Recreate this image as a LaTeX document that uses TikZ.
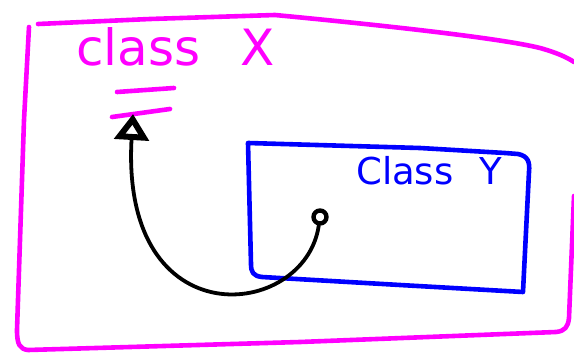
\documentclass[tikz,border=0pt]{standalone}
\usepackage{fontspec}
\setmainfont{DejaVu Sans}
\usepackage{tikz}
\usetikzlibrary{arrows.meta, positioning, calc}
\definecolor{cmag}{HTML}{FF00FF}
\definecolor{cblue}{HTML}{0000FF}

\begin{document}
\begin{tikzpicture}[x=1pt, y=-1pt, line cap=round, line join=round,
  magpen/.style={cmag, line width=4.6pt},
  bluepen/.style={cblue, line width=4.6pt},
  hand/.style={inner sep=0pt, anchor=base west}]
  \useasboundingbox[fill=white] (0,0) rectangle (574,353);

  % Outer frame (class X)
  \draw[magpen] (38,24) -- (150,19) -- (275,15) .. controls (380,25) and (500,38) .. (540,48) .. controls (558,53) and (568,58) .. (574,62);
  \draw[magpen] (29,27) -- (24,120) -- (17,330) .. controls (17,345) and (20,349) .. (28,350) -- (300,342) -- (556,332) .. controls (565,331) and (568,327) .. (569,318) -- (574,196);
  \node[hand, cmag, font=\fontsize{50}{50}\selectfont] (classX) at (76,66) {class\hspace{40pt}X};
  \draw[magpen] (117,92) -- (174,88);
  \draw[magpen] (112,117) -- (170,109);

  % Inner box (Class Y)
  \draw[bluepen] (248,143) -- (420,148) -- (505,153) -- (518,154) .. controls (528,156) and (530,162) .. (529,172) -- (523,292) -- (400,285) -- (262,277) .. controls (253,276) and (251,272) .. (251,264) -- (248,143);
  \node[hand, cblue, font=\fontsize{37}{37}\selectfont] (classY) at (356,185) {Class\hspace{26pt}Y};

  % Reference from Y back into X
  \coordinate (ref) at (133,114);
  \node[circle, draw=black, line width=4.4pt, fill=white, minimum size=13pt, inner sep=0pt] (use) at (320,217) {};
  \draw[line width=3.8pt, -{Triangle[open, length=26pt, width=34pt, line width=6pt]}] (use) .. controls (305,320) and (120,340) .. (ref);
\end{tikzpicture}
\end{document}
